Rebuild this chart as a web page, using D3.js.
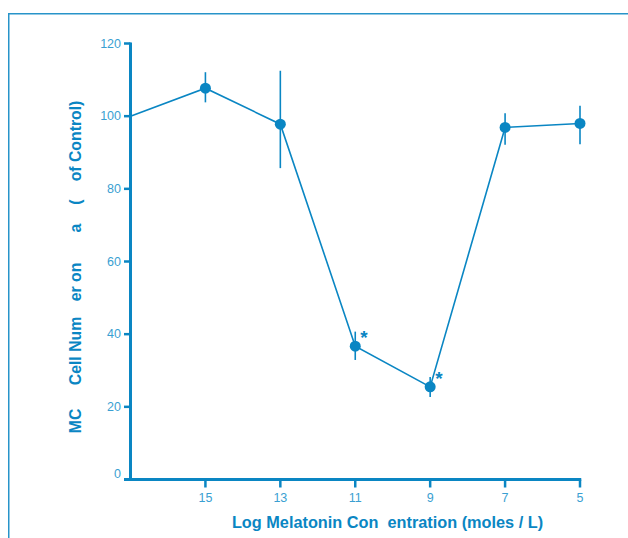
<!DOCTYPE html>
<html><head><meta charset="utf-8">
<script src="https://cdn.jsdelivr.net/npm/d3@7"></script>
<style>html,body{margin:0;padding:0;background:#fff}svg{display:block}</style>
</head><body>
<svg id="c" width="628" height="538"></svg>
<script>
const logConc = [17, 15, 13, 11, 9, 7, 5];
const cellPct = [100, 107.7, 97.8, 36.7, 25.5, 96.9, 98];
const errHigh = [null, 112.1, 112.5, 40.7, 28.2, 100.8, 102.9];
const errLow  = [null, 103.8, 85.7, 32.9, 22.7, 92.1, 92.3];
const showMarker = [false, true, true, true, true, true, true];
const significant = [false, false, false, true, true, false, false];
const xTicks = [15, 13, 11, 9, 7, 5];
const yTicks = [0, 20, 40, 60, 80, 100, 120];
const yTitleParts = ["MC", "Cell Num", "er on", "a", "(", "of Control)"];
const yTitlePos = [421, 351, 282, 228, 202, 141];
const xTitle = "Log Melatonin Con  entration (moles / L)";

const C = "#0a86c3", CL = "#3a9fd2";
const FONT = "Liberation Sans, Arial, sans-serif";
const svg = d3.select("#c");
// frame
svg.append("path").attr("d","M8.75,538 V13.75 H628").attr("fill","none").attr("stroke","#2894c9").attr("stroke-width",1.5);

const x = d3.scaleLinear().domain([17,5]).range([130.5,580]);
const y = d3.scaleLinear().domain([0,120]).range([479.5,43.5]);

// y axis
const ya = svg.append("g");
ya.append("line").attr("x1",130.5).attr("x2",130.5).attr("y1",y(120)-1).attr("y2",y(0)).attr("stroke",C).attr("stroke-width",3);
yTicks.forEach(t=>{
  ya.append("line").attr("x1",124).attr("x2",130.5).attr("y1",y(t)).attr("y2",y(t)).attr("stroke",C).attr("stroke-width",2.5);
  ya.append("text").attr("x",121).attr("y",y(t)+4-(t===0?6:0)).attr("text-anchor","end").attr("fill",CL)
    .attr("font-family",FONT).attr("font-size",12.5).text(t);
});
// x axis
const xa = svg.append("g");
xa.append("line").attr("x1",124).attr("x2",x(5)+1.25).attr("y1",y(0)).attr("y2",y(0)).attr("stroke",C).attr("stroke-width",3);
xTicks.forEach(t=>{
  xa.append("line").attr("x1",x(t)).attr("x2",x(t)).attr("y1",y(0)).attr("y2",y(0)+8).attr("stroke",C).attr("stroke-width",2.5);
  xa.append("text").attr("x",x(t)).attr("y",502).attr("text-anchor","middle").attr("fill",CL)
    .attr("font-family",FONT).attr("font-size",12.5).text(t);
});

// titles
svg.append("text").attr("x",387.5).attr("y",527.5).attr("text-anchor","middle").attr("fill",C)
  .attr("font-family",FONT).attr("font-weight","bold").attr("font-size",16.3)
  .style("white-space","pre").text(xTitle);
yTitleParts.forEach((p,i)=>{
  svg.append("text").attr("transform",`translate(81,${yTitlePos[i]}) rotate(-90)`).attr("text-anchor","middle").attr("fill",C)
    .attr("font-family",FONT).attr("font-weight","bold").attr("font-size",15.8).text(p);
});

const data = logConc.map((c,i)=>({c, v:cellPct[i], hi:errHigh[i], lo:errLow[i], m:showMarker[i], s:significant[i]}));

svg.append("path").datum(data).attr("fill","none").attr("stroke",C).attr("stroke-width",1.6)
  .attr("d", d3.line().x(d=>x(d.c)).y(d=>y(d.v)));

const pts = data.filter(d=>d.m);
svg.selectAll(".eb").data(pts).join("line").attr("x1",d=>x(d.c)).attr("x2",d=>x(d.c))
  .attr("y1",d=>y(d.hi)).attr("y2",d=>y(d.lo)).attr("stroke",C).attr("stroke-width",1.6);
svg.selectAll(".mk").data(pts).join("circle").attr("cx",d=>x(d.c)).attr("cy",d=>y(d.v)).attr("r",5.5).attr("fill",C);
svg.selectAll(".st").data(data.filter(d=>d.s)).join("text").attr("x",d=>x(d.c)+5).attr("y",d=>y(d.v)-2)
  .attr("fill",C).attr("font-family",FONT).attr("font-weight","bold").attr("font-size",19).text("*");
</script>
</body></html>
